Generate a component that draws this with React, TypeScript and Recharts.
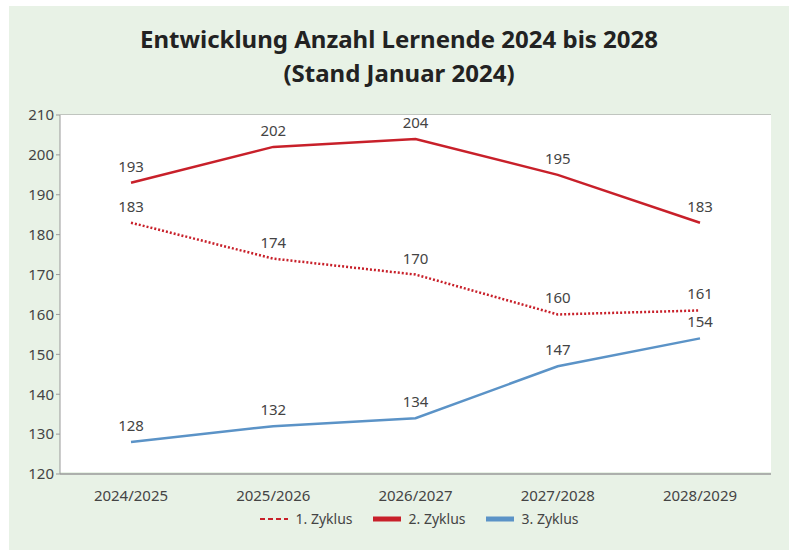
import React from 'react';
import { LineChart, Line, XAxis, YAxis, CartesianGrid, Legend, LabelList } from 'recharts';

const categories = ['2024/2025', '2025/2026', '2026/2027', '2027/2028', '2028/2029'];
const zyklus1 = [183, 174, 170, 160, 161];
const zyklus2 = [193, 202, 204, 195, 183];
const zyklus3 = [128, 132, 134, 147, 154];
const yTicks = [120, 130, 140, 150, 160, 170, 180, 190, 200, 210];

const data = categories.map((c, i) => ({ name: c, z1: zyklus1[i], z2: zyklus2[i], z3: zyklus3[i] }));

const RED = '#c8202a';
const BLUE = '#5b93c7';
const FONT = '"Noto Sans", "Open Sans", sans-serif';
const TEXT = { fontFamily: FONT, fontSize: 15, fill: '#444' };

const legendItems = [
  { label: '1. Zyklus', color: RED, dash: '5 3' },
  { label: '2. Zyklus', color: RED, dash: undefined },
  { label: '3. Zyklus', color: BLUE, dash: undefined },
];

// legend sits a bit right of centre in the original
const renderLegend = () => (
  <div style={{ display: 'flex', justifyContent: 'center', gap: 20, fontFamily: FONT, fontSize: 14, color: '#444', paddingTop: 5, paddingLeft: 58 }}>
    {legendItems.map((it) => (
      <div key={it.label} style={{ display: 'flex', alignItems: 'center' }}>
        <svg width={28} height={6} style={{ marginRight: 8 }}>
          <line x1={0} y1={3} x2={28} y2={3} stroke={it.color} strokeWidth={it.dash ? 2 : 5} strokeDasharray={it.dash} />
        </svg>
        <span>{it.label}</span>
      </div>
    ))}
  </div>
);

const App = () => {
  return (
    <div style={{ position: 'absolute', left: 9, top: 6, width: 780, height: 544, background: '#e8f2e6' }}>
      <div style={{ position: 'absolute', top: 16, width: '100%', textAlign: 'center', fontFamily: FONT, fontWeight: 700, fontSize: 24, lineHeight: '34px', color: '#222' }}>
        Entwicklung Anzahl Lernende 2024 bis 2028
        <br />
        (Stand Januar 2024)
      </div>
      <LineChart width={780} height={544} data={data} margin={{ top: 109, right: 18, bottom: 10, left: 0 }}>
        <rect x={51} y={109} width={711} height={357} fill="#fff" />
        <CartesianGrid vertical={false} stroke="#999" strokeWidth={1} />
        <XAxis
          dataKey="name"
          padding={{ left: 71, right: 71 }}
          tickLine={false}
          axisLine={{ stroke: '#999' }}
          tick={TEXT}
          tickMargin={10}
          height={30}
        />
        <YAxis
          domain={[120, 210]}
          ticks={yTicks}
          interval={0}
          width={51}
          tickSize={4}
          tickLine={{ stroke: '#999' }}
          axisLine={{ stroke: '#999' }}
          tick={TEXT}
        />
        <Legend verticalAlign="bottom" height={36} content={renderLegend} />
        <Line dataKey="z1" name="1. Zyklus" stroke={RED} strokeWidth={2.5} strokeDasharray="2 2" dot={false} isAnimationActive={false}>
          <LabelList dataKey="z1" position="top" offset={11} style={TEXT} />
        </Line>
        <Line dataKey="z2" name="2. Zyklus" stroke={RED} strokeWidth={2.5} dot={false} isAnimationActive={false}>
          <LabelList dataKey="z2" position="top" offset={11} style={TEXT} />
        </Line>
        <Line dataKey="z3" name="3. Zyklus" stroke={BLUE} strokeWidth={2.5} dot={false} isAnimationActive={false}>
          <LabelList dataKey="z3" position="top" offset={11} style={TEXT} />
        </Line>
      </LineChart>
    </div>
  );
};

export default App;
